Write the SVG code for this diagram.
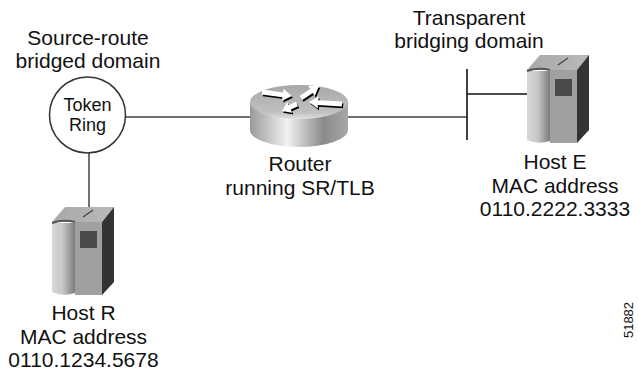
<svg xmlns="http://www.w3.org/2000/svg" width="639" height="372" viewBox="0 0 639 372">
<defs>
<style>
text{font-family:"Liberation Sans",Arial,sans-serif;fill:#111;text-anchor:middle}
.lbl{font-size:21px}
.hl{font-size:21px}
.wire{stroke:#707070;stroke-width:2;fill:none}
.bus{stroke:#111;stroke-width:1.6;fill:none}
.arw{fill:#fff}
.shd{fill:#000}
</style>
<linearGradient id="cyl" x1="0" y1="0" x2="1" y2="0">
<stop offset="0" stop-color="#d8d8d8"/>
<stop offset="0.45" stop-color="#c8c8c8"/>
<stop offset="1" stop-color="#7c7c7c"/>
</linearGradient>
<linearGradient id="topf" x1="0" y1="0" x2="1" y2="0">
<stop offset="0" stop-color="#a8a8a8"/>
<stop offset="1" stop-color="#bababa"/>
</linearGradient>
<linearGradient id="rbody" x1="0" y1="0" x2="1" y2="0">
<stop offset="0" stop-color="#9a9a9a"/>
<stop offset="0.38" stop-color="#f2f2f2"/>
<stop offset="0.75" stop-color="#8a8a8a"/>
<stop offset="1" stop-color="#a8a8a8"/>
</linearGradient>
<linearGradient id="rtop" x1="0" y1="0" x2="0" y2="1">
<stop offset="0" stop-color="#a8a8a8"/>
<stop offset="0.8" stop-color="#c0c0c0"/>
<stop offset="1" stop-color="#e0e0e0"/>
</linearGradient>
<g id="host">
<polygon points="0,15 50,15 62,0 13,0" fill="url(#topf)"/>
<polygon points="50,15 62,0 62,75 50,88" fill="#333"/>
<rect x="23" y="15" width="27" height="73" fill="#a0a0a0"/>
<path d="M0,16 L0,85 Q11,90 23,86 L23,16 Z" fill="url(#cyl)"/>
<path d="M0,16 Q11,12 23,15" stroke="#555" stroke-width="2" fill="none"/>
<rect x="28" y="24" width="17" height="17" fill="#4a4a4a"/>
<line x1="31" y1="10" x2="41" y2="3" stroke="#444" stroke-width="1.2"/>
</g>
</defs>
<rect width="639" height="372" fill="#fff"/>

<g id="connectors">
<line class="wire" x1="125" y1="117" x2="252" y2="117"/>
<line class="wire" x1="89" y1="153" x2="89" y2="212"/>
<line class="wire" x1="346" y1="117" x2="467" y2="117"/>
<line class="bus" x1="467" y1="69" x2="467" y2="140"/>
<line class="bus" x1="467" y1="94" x2="528" y2="94"/>
</g>

<g id="token-ring">
<circle cx="87.5" cy="115" r="38" fill="#fff" stroke="#333" stroke-width="1.5"/>
<text x="87.5" y="110.5" style="font-size:18px">Token</text>
<text x="87.5" y="131" style="font-size:18px">Ring</text>
</g>

<g id="sr-domain-label">
<text class="lbl" x="88" y="45">Source-route</text>
<text class="lbl" x="88" y="68">bridged domain</text>
</g>

<g id="tb-domain-label">
<text class="lbl" x="469" y="25">Transparent</text>
<text class="lbl" x="469" y="48">bridging domain</text>
</g>

<g id="router">
<path d="M250,102 L250,130 A49,17 0 0 0 348,130 L348,102 Z" fill="url(#rbody)"/>
<ellipse cx="299" cy="102" rx="49" ry="17" fill="url(#rtop)"/>
<g transform="translate(263.2,93.8) rotate(7.6)"><path class="shd" d="M0,-2.4 H21 V-6 L30,0 L21,6 V2.4 H0 Z"/></g>
<g transform="translate(262,92) rotate(7.6)"><path class="arw" d="M0,-2.4 H21 V-6 L30,0 L21,6 V2.4 H0 Z"/></g>
<g transform="translate(302.2,99.8) rotate(-33.7)"><path class="shd" d="M0,-2.4 H12.6 V-6 L21.6,0 L12.6,6 V2.4 H0 Z"/></g>
<g transform="translate(301,98) rotate(-33.7)"><path class="arw" d="M0,-2.4 H12.6 V-6 L21.6,0 L12.6,6 V2.4 H0 Z"/></g>
<g transform="translate(343.2,105.8) rotate(183.5)"><path class="shd" d="M0,-2.4 H24 V-6 L33,0 L24,6 V2.4 H0 Z"/></g>
<g transform="translate(342,104) rotate(183.5)"><path class="arw" d="M0,-2.4 H24 V-6 L33,0 L24,6 V2.4 H0 Z"/></g>
<g transform="translate(298.2,105.8) rotate(155)"><path class="shd" d="M0,-2.4 H8 V-6 L16.6,0 L8,6 V2.4 H0 Z"/></g>
<g transform="translate(297,104) rotate(155)"><path class="arw" d="M0,-2.4 H8 V-6 L16.6,0 L8,6 V2.4 H0 Z"/></g>
<text class="lbl" x="300" y="171">Router</text>
<text class="lbl" x="300" y="195">running SR/TLB</text>
</g>

<g id="host-r">
<use href="#host" transform="translate(52,207)"/>
<text class="hl" x="83.5" y="320">Host R</text>
<text class="hl" x="83.5" y="344">MAC address</text>
<text class="hl" x="83.5" y="367">0110.1234.5678</text>
</g>

<g id="host-e">
<use href="#host" transform="translate(527,55)"/>
<text class="hl" x="555" y="169">Host E</text>
<text class="hl" x="555" y="193">MAC address</text>
<text class="hl" x="555" y="216">0110.2222.3333</text>
</g>

<g id="figure-id">
<text transform="translate(633,320) rotate(-90)" style="font-size:13px">51882</text>
</g>
</svg>
